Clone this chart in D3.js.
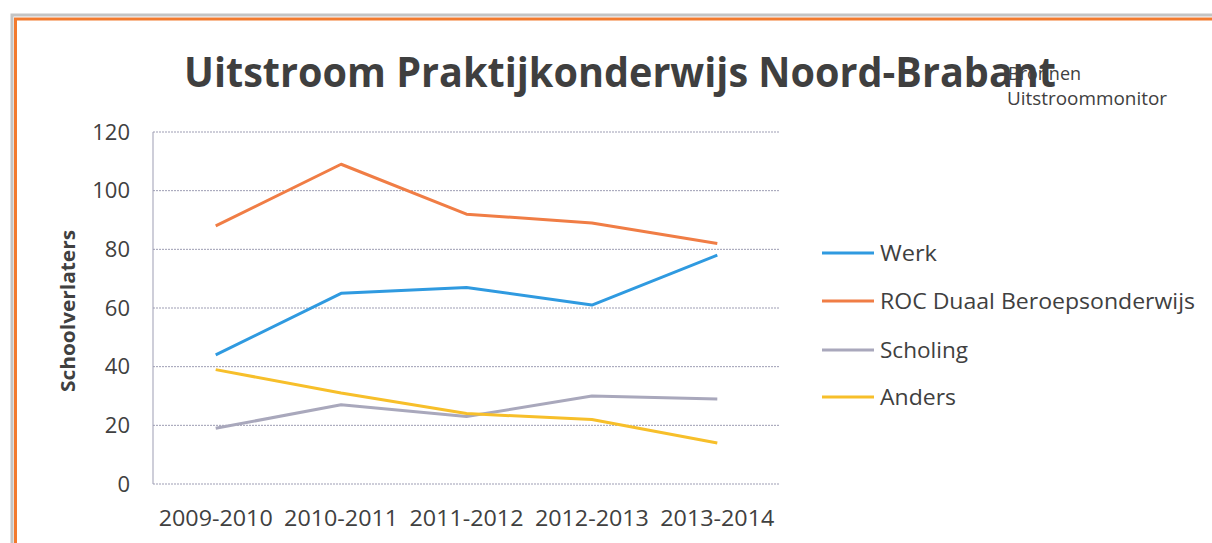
<!DOCTYPE html>
<html><head><meta charset="utf-8">
<script src="https://cdn.jsdelivr.net/npm/d3@7"></script>
<style>html,body{margin:0;padding:0;background:#fff;}svg{display:block;}</style>
</head><body>
<script>
const categories = ["2009-2010","2010-2011","2011-2012","2012-2013","2013-2014"];
const seriesNames = ["Werk","ROC Duaal Beroepsonderwijs","Scholing","Anders"];
const werk = [44, 65, 67, 61, 78];
const roc = [88, 109, 92, 89, 82];
const scholing = [19, 27, 23, 30, 29];
const anders = [39, 31, 24, 22, 14];
const yTicks = [0, 20, 40, 60, 80, 100, 120];
const colors = ["#2f9ae0", "#f07d45", "#a9a8bc", "#f7bf2a"];

const W = 1212, H = 543;
const svg = d3.select("body").append("svg").attr("width", W).attr("height", H);
const font = "'Open Sans', 'DejaVu Sans', sans-serif";

// scanned frame: gray shadow + orange border
svg.append("rect").attr("x", 12).attr("y", 15).attr("width", W).attr("height", H)
  .attr("fill", "none").attr("stroke", "#c4c4c4").attr("stroke-width", 3);
svg.append("rect").attr("x", 15.5).attr("y", 19).attr("width", W).attr("height", H)
  .attr("fill", "none").attr("stroke", "#f27a2e").attr("stroke-width", 3);

const plot = {l: 153, r: 780, t: 132, b: 484};
const x = d3.scaleBand().domain(categories).range([plot.l, plot.r]);
const y = d3.scaleLinear().domain([0, 120]).range([plot.b, plot.t]);

// gridlines
svg.append("g").selectAll("line").data(yTicks).join("line")
  .attr("x1", plot.l).attr("x2", plot.r)
  .attr("y1", d => y(d)).attr("y2", d => y(d))
  .attr("stroke", "#9d9db3").attr("stroke-width", 1).attr("stroke-dasharray", "2,1");
svg.append("line").attr("x1", plot.l).attr("x2", plot.l).attr("y1", plot.t).attr("y2", plot.b)
  .attr("stroke", "#9d9db3").attr("stroke-width", 1);

// y axis
const yAxis = svg.append("g").attr("transform", `translate(${plot.l},0)`)
  .call(d3.axisLeft(y).tickValues(yTicks).tickSize(0).tickPadding(23));
yAxis.select(".domain").remove();
yAxis.selectAll("text").attr("font-family", font).attr("font-size", 22).attr("fill", "#404040");

// x axis
const xAxis = svg.append("g").attr("transform", `translate(0,${plot.b})`)
  .call(d3.axisBottom(x).tickSize(0).tickPadding(26));
xAxis.select(".domain").remove();
xAxis.selectAll("text").attr("font-family", font).attr("font-size", 22).attr("fill", "#404040")
  .attr("textLength", 114).attr("lengthAdjust", "spacingAndGlyphs");

// lines
const data = [werk, roc, scholing, anders];
const line = d3.line().x((d, i) => x(categories[i]) + x.bandwidth() / 2).y(d => y(d));
svg.append("g").selectAll("path").data(data).join("path")
  .attr("d", d => line(d)).attr("fill", "none")
  .attr("stroke", (d, i) => colors[i]).attr("stroke-width", 3).attr("stroke-linejoin", "round");

// title
svg.append("text").attr("x", 620).attr("y", 87).attr("text-anchor", "middle")
  .attr("font-family", font).attr("font-weight", "bold").attr("font-size", 42)
  .attr("fill", "#3f3f3f").attr("textLength", 872).attr("lengthAdjust", "spacingAndGlyphs")
  .text("Uitstroom Praktijkonderwijs Noord-Brabant");
svg.append("text").attr("x", 1008).attr("y", 80).attr("font-family", font).attr("font-size", 18)
  .attr("fill", "#404040").text("Bronnen");
svg.append("text").attr("x", 1007).attr("y", 105).attr("font-family", font).attr("font-size", 18)
  .attr("fill", "#404040").attr("textLength", 160).attr("lengthAdjust", "spacingAndGlyphs")
  .text("Uitstroommonitor");

// y axis title
svg.append("text").attr("transform", "translate(75,311) rotate(-90)").attr("text-anchor", "middle")
  .attr("font-family", font).attr("font-weight", "bold").attr("font-size", 20)
  .attr("fill", "#404040").attr("textLength", 162).attr("lengthAdjust", "spacingAndGlyphs")
  .text("Schoolverlaters");

// legend
const legY = [253, 301, 350, 397];
const legW = [57, 315, 88, 76];
const leg = svg.append("g").selectAll("g").data(seriesNames).join("g")
  .attr("transform", (d, i) => `translate(822,${legY[i]})`);
leg.append("line").attr("x1", 0).attr("x2", 52).attr("y1", 0).attr("y2", 0)
  .attr("stroke", (d, i) => colors[i]).attr("stroke-width", 3);
leg.append("text").attr("x", 58).attr("y", 8).attr("font-family", font).attr("font-size", 22)
  .attr("fill", "#404040").attr("textLength", (d, i) => legW[i]).attr("lengthAdjust", "spacingAndGlyphs")
  .text(d => d);
</script>
</body></html>
